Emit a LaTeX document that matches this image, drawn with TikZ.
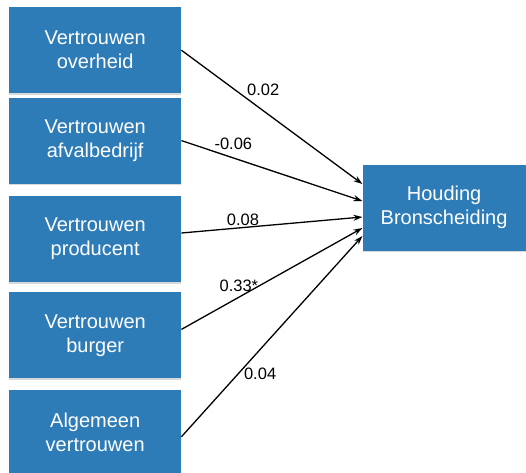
\documentclass[tikz,border=0pt]{standalone}
\usepackage{fontspec}
\setmainfont{Liberation Sans}
\usetikzlibrary{arrows.meta,positioning,shadows}
\definecolor{boxblue}{RGB}{46,124,183}

\begin{document}
\begin{tikzpicture}[
    x=1pt, y=1pt,
    every node/.style={font=\fontsize{16.5}{19}\selectfont},
    srcbox/.style={rectangle, fill=boxblue, text=white, align=center,
        minimum width=172pt, minimum height=86pt, inner sep=0pt,
        font=\fontsize{20}{24}\selectfont,
        drop shadow={shadow xshift=0pt, shadow yshift=-1.5pt, opacity=0.3}},
    patharrow/.style={-{Stealth[length=9pt, width=6pt]}, line width=1.3pt},
    coef/.style={inner sep=1pt},
]

\useasboundingbox (0,0) rectangle (526,-472);

% ===== LEFT: trust boxes =====
\node[srcbox, anchor=north west] (overheid) at (9,-7) {Vertrouwen\\overheid};
\node[srcbox, below=4pt of overheid] (afval) {Vertrouwen\\afvalbedrijf};
\node[srcbox, below=12pt of afval] (producent) {Vertrouwen\\producent};
\node[srcbox, below=10pt of producent] (burger) {Vertrouwen\\burger};
\node[srcbox, below=11pt of burger] (algemeen) {Algemeen\\vertrouwen};

% ===== RIGHT: outcome =====
\node[srcbox, minimum width=163pt, right=181pt of producent, yshift=31.5pt] (houding)
    {Houding\\Bronscheiding};

% ===== Paths with coefficients =====
\draw[patharrow] (overheid.east) -- ([yshift=23.5pt]houding.west)
    node[coef, pos=0.354, above right] {0.02};
\draw[patharrow] (afval.east) -- ([yshift=6.5pt]houding.west)
    node[coef, pos=0.174, above right] {-0.06};
\draw[patharrow] ([yshift=6pt]producent.east) -- ([yshift=-9.5pt]houding.west)
    node[coef, pos=0.34, above] {0.08};
\draw[patharrow] ([yshift=6pt]burger.east) -- ([yshift=-20.5pt]houding.west)
    node[coef, pos=0.433, left] {0.33*};
\draw[patharrow] ([yshift=-4pt]algemeen.east) -- ([yshift=-28.5pt]houding.west)
    node[coef, pos=0.315, right=4pt] {0.04};

\end{tikzpicture}
\end{document}
